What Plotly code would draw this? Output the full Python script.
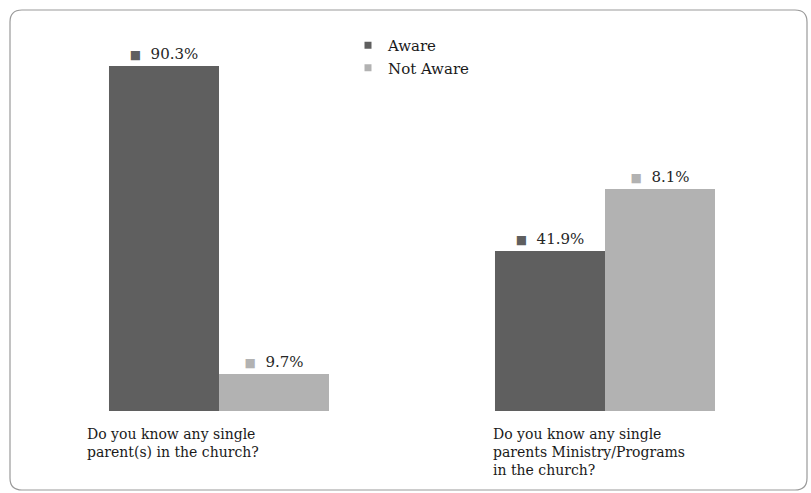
import plotly.graph_objects as go

categories = [
    "Do you know any single<br>parent(s) in the church?",
    "Do you know any single<br>parents Ministry/Programs<br>in the church?",
]
series_names = ["Aware", "Not Aware"]
aware = [90.3, 41.9]
not_aware = [9.7, 58.1]
aware_labels = ["90.3%", "41.9%"]
not_aware_labels = ["9.7%", "8.1%"]

colors = ["#5f5f5f", "#b2b2b2"]
FONT = "DejaVu Serif"
label_xshift = [-134, -114]  # pixel offsets of the left-aligned category labels

W, H = 811, 493
L, R, T, B = 26, 13, 29, 82
pw, ph = W - L - R, H - T - B

fig = go.Figure()
xs = [0, 1]
for name, vals, labels, col in [
    (series_names[0], aware, aware_labels, colors[0]),
    (series_names[1], not_aware, not_aware_labels, colors[1]),
]:
    fig.add_trace(go.Bar(
        x=xs, y=vals, name=name, marker=dict(color=col, line=dict(width=0)),
        text=[f'<span style="color:{col}; font-size:12px">■</span>  {t}' for t in labels],
        textposition="outside", cliponaxis=False,
        textfont=dict(family=FONT, size=15, color="#262626"),
        showlegend=False, hoverinfo="skip",
    ))
    fig.add_trace(go.Scatter(
        x=[None], y=[None], mode="markers", name=name,
        marker=dict(symbol="square", size=7, color=col),
    ))

# category labels, left-aligned under each group
for i, c in enumerate(categories):
    fig.add_annotation(
        x=xs[i], y=0, xref="x", yref="y",
        xshift=label_xshift[i], yshift=-13,
        text=c, showarrow=False, xanchor="left", yanchor="top", align="left",
        font=dict(family=FONT, size=14, color="#1a1a1a"),
    )

# rounded frame (pixel -> paper)
def px(x):
    return (x - L) / pw
def py(y):
    return (H - B - y) / ph
x0, y0, x1, y1, r = 10, 10, 807, 490, 12
path = (
    f"M {px(x0+r)},{py(y0)} L {px(x1-r)},{py(y0)} Q {px(x1)},{py(y0)} {px(x1)},{py(y0+r)} "
    f"L {px(x1)},{py(y1-r)} Q {px(x1)},{py(y1)} {px(x1-r)},{py(y1)} "
    f"L {px(x0+r)},{py(y1)} Q {px(x0)},{py(y1)} {px(x0)},{py(y1-r)} "
    f"L {px(x0)},{py(y0+r)} Q {px(x0)},{py(y0)} {px(x0+r)},{py(y0)} Z"
)
fig.add_shape(type="path", path=path, xref="paper", yref="paper",
              line=dict(color="#9a9a9a", width=1.2), layer="below")

fig.update_layout(
    width=W, height=H,
    margin=dict(l=L, r=R, t=T, b=B),
    paper_bgcolor="white", plot_bgcolor="white",
    barmode="group", bargap=0.43, bargroupgap=0,
    xaxis=dict(range=[-0.5, 1.5], showticklabels=False, showgrid=False,
               zeroline=False, showline=False, ticks=""),
    yaxis=dict(range=[0, 100], visible=False),
    legend=dict(x=px(348), y=py(29), xanchor="left", yanchor="top",
                font=dict(family=FONT, size=15, color="#1a1a1a"),
                tracegroupgap=0, itemwidth=30, bgcolor="rgba(0,0,0,0)"),
    showlegend=True,
)

fig.write_html("out.html")
